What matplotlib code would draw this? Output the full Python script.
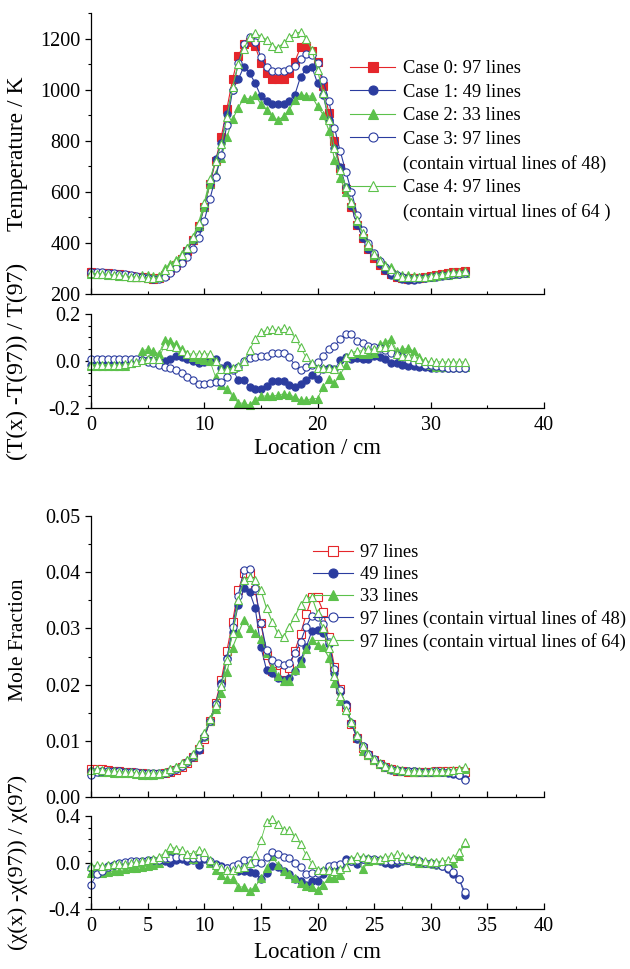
import numpy as np
import matplotlib
matplotlib.use("Agg")
import matplotlib.pyplot as plt
from matplotlib.ticker import MultipleLocator, FormatStrFormatter
from matplotlib.lines import Line2D

plt.rcParams['font.family'] = ['Liberation Serif', 'DejaVu Serif']
plt.rcParams['axes.unicode_minus'] = False

# positions (cm), 0 .. 33 every 0.5
loc = np.arange(0, 33.01, 0.5)

# ---- temperature / K ----
t_case0 = [285, 284, 283, 281, 279, 277, 274, 271, 268, 265,
           262, 260, 263, 275, 292, 312, 338, 370, 410, 465,
           540, 630, 720, 815, 925, 1040, 1130, 1180, 1185, 1170,
           1105, 1065, 1040, 1040, 1040, 1065, 1110, 1165, 1170, 1150,
           1110, 1015, 910, 800, 695, 610, 540, 470, 420, 375,
           340, 312, 292, 278, 268, 262, 260, 261, 264, 268,
           272, 276, 280, 283, 286, 288, 290]
t_case1 = [281, 280, 279, 277, 276, 274, 272, 270, 268, 265,
           263, 260, 262, 274, 294, 318, 340, 372, 410, 460,
           540, 635, 727, 790, 905, 1000, 1040, 1090, 1065, 1025,
           974, 954, 945, 942, 945, 955, 980, 1050, 1080, 1090,
           1025, 978, 883, 771, 697, 620, 544, 472, 420, 378,
           347, 318, 294, 276, 268, 260, 256, 256, 258, 261,
           265, 268, 272, 275, 278, 280, 282]
t_case2 = [279, 278, 277, 275, 273, 271, 269, 268, 268, 276,
           275, 271, 271, 300, 317, 335, 355, 381, 416, 468,
           542, 630, 671, 734, 814, 884, 929, 968, 962, 978,
           944, 921, 895, 880, 895, 921, 960, 980, 976, 974,
           935, 902, 840, 725, 655, 598, 556, 487, 433, 387,
           352, 335, 315, 304, 280, 275, 274, 272, 268, 268,
           268, 269, 273, 276, 279, 281, 283]
t_case3 = [288, 287, 286, 284, 282, 280, 277, 274, 271, 267,
           261, 257, 258, 266, 283, 300, 322, 345, 376, 418,
           486, 572, 657, 743, 863, 998, 1103, 1180, 1205, 1188,
           1127, 1088, 1073, 1073, 1073, 1081, 1093, 1118, 1140, 1135,
           1105, 1037, 955, 850, 760, 679, 601, 511, 451, 399,
           360, 329, 305, 288, 275, 266, 261, 260, 261, 264,
           267, 270, 273, 275, 278, 280, 282]
t_case4 = [281, 280, 279, 277, 275, 273, 270, 268, 267, 266,
           264, 262, 266, 294, 311, 330, 353, 381, 422, 479,
           556, 649, 720, 786, 892, 1010, 1100, 1160, 1205, 1222,
           1208, 1196, 1172, 1163, 1183, 1205, 1220, 1225, 1200, 1157,
           1077, 985, 883, 771, 685, 619, 560, 490, 438, 394,
           357, 330, 309, 296, 276, 268, 266, 265, 266, 268,
           271, 276, 279, 282, 285, 287, 289]

# ---- (T(x)-T(97))/T(97) ----
dt_case1 = [-0.015, -0.015, -0.015, -0.013, -0.012, -0.010, -0.008, -0.005, 0.000, 0.003,
            0.005, 0.003, 0.000, 0.000, 0.007, 0.022, 0.015, 0.007, 0.000, -0.010,
            -0.004, 0.010, 0.010, -0.030, -0.019, -0.036, -0.080, -0.080, -0.109, -0.120,
            -0.120, -0.106, -0.087, -0.087, -0.083, -0.101, -0.109, -0.097, -0.080, -0.058,
            -0.077, -0.036, -0.030, -0.036, 0.003, 0.017, 0.007, 0.012, 0.007, 0.010,
            0.022, 0.017, 0.007, -0.007, -0.010, -0.015, -0.020, -0.022, -0.025, -0.027,
            -0.028, -0.030, -0.030, -0.030, -0.030, -0.030, -0.030]
dt_case2 = [-0.020, -0.020, -0.020, -0.020, -0.020, -0.020, -0.020, -0.010, 0.000, 0.043,
            0.050, 0.043, 0.030, 0.090, 0.083, 0.073, 0.050, 0.030, 0.015, 0.007,
            0.003, 0.000, -0.068, -0.100, -0.120, -0.150, -0.178, -0.180, -0.188, -0.164,
            -0.149, -0.149, -0.149, -0.145, -0.140, -0.145, -0.152, -0.167, -0.167, -0.160,
            -0.160, -0.109, -0.077, -0.094, -0.058, -0.019, 0.030, 0.036, 0.030, 0.030,
            0.036, 0.073, 0.080, 0.094, 0.043, 0.050, 0.054, 0.043, 0.015, 0.000,
            -0.015, -0.025, -0.025, -0.025, -0.025, -0.025, -0.025]
dt_case3 = [0.010, 0.010, 0.010, 0.010, 0.010, 0.010, 0.010, 0.010, 0.010, 0.005,
            -0.003, -0.010, -0.017, -0.027, -0.030, -0.040, -0.050, -0.066, -0.080, -0.098,
            -0.098, -0.092, -0.088, -0.088, -0.067, -0.040, -0.024, 0.000, 0.011, 0.016,
            0.020, 0.022, 0.032, 0.032, 0.032, 0.015, -0.015, -0.040, -0.026, -0.019,
            -0.004, 0.022, 0.050, 0.062, 0.094, 0.113, 0.113, 0.087, 0.075, 0.065,
            0.058, 0.054, 0.046, 0.036, 0.025, 0.015, 0.004, -0.004, -0.010, -0.016,
            -0.019, -0.022, -0.025, -0.029, -0.029, -0.029, -0.029]
dt_case4 = [-0.015, -0.015, -0.015, -0.015, -0.015, -0.015, -0.012, -0.010, -0.005, 0.005,
            0.007, 0.007, 0.010, 0.070, 0.065, 0.058, 0.043, 0.030, 0.030, 0.030,
            0.030, 0.030, 0.000, -0.036, -0.036, -0.030, -0.020, 0.000, 0.046, 0.094,
            0.123, 0.130, 0.135, 0.130, 0.140, 0.130, 0.100, 0.058, 0.015, -0.007,
            -0.030, -0.030, -0.030, -0.036, -0.015, 0.015, 0.036, 0.043, 0.043, 0.050,
            0.050, 0.058, 0.058, 0.065, 0.030, 0.022, 0.022, 0.015, 0.007, 0.000,
            -0.002, -0.003, -0.004, -0.004, -0.004, -0.004, -0.004]

# ---- mole fraction ----
x_case0 = [0.0050, 0.0050, 0.0049, 0.0048, 0.0047, 0.0046, 0.0045, 0.0044, 0.0043, 0.0042,
           0.0041, 0.0041, 0.0041, 0.0042, 0.0044, 0.0048, 0.0054, 0.0061, 0.0071, 0.0085,
           0.0104, 0.0135, 0.0168, 0.0208, 0.0260, 0.0312, 0.0368, 0.0398, 0.0398, 0.0368,
           0.0310, 0.0252, 0.0225, 0.0221, 0.0222, 0.0229, 0.0260, 0.0290, 0.0325, 0.0355,
           0.0355, 0.0330, 0.0285, 0.0232, 0.0192, 0.0160, 0.0130, 0.0105, 0.0087, 0.0074,
           0.0065, 0.0058, 0.0053, 0.0049, 0.0047, 0.0046, 0.0045, 0.0045, 0.0045, 0.0045,
           0.0045, 0.0046, 0.0046, 0.0046, 0.0046, 0.0046, 0.0045]
x_case1 = [0.0047, 0.0047, 0.0047, 0.0047, 0.0046, 0.0046, 0.0045, 0.0044, 0.0043, 0.0042,
           0.0041, 0.0041, 0.0041, 0.0042, 0.0044, 0.0049, 0.0056, 0.0062, 0.0072, 0.0083,
           0.0107, 0.0135, 0.0166, 0.0202, 0.0247, 0.0293, 0.0342, 0.0371, 0.0365, 0.0336,
           0.0267, 0.0226, 0.0220, 0.0211, 0.0208, 0.0211, 0.0224, 0.0244, 0.0267, 0.0295,
           0.0297, 0.0291, 0.0272, 0.0220, 0.0186, 0.0165, 0.0131, 0.0104, 0.0090, 0.0076,
           0.0066, 0.0059, 0.0053, 0.0048, 0.0047, 0.0046, 0.0046, 0.0046, 0.0045, 0.0045,
           0.0045, 0.0045, 0.0045, 0.0043, 0.0041, 0.0040, 0.0032]
x_case2 = [0.0046, 0.0046, 0.0045, 0.0044, 0.0043, 0.0043, 0.0042, 0.0042, 0.0041, 0.0040,
           0.0040, 0.0040, 0.0041, 0.0044, 0.0049, 0.0053, 0.0058, 0.0065, 0.0073, 0.0092,
           0.0109, 0.0135, 0.0157, 0.0185, 0.0222, 0.0266, 0.0291, 0.0315, 0.0301, 0.0292,
           0.0282, 0.0256, 0.0231, 0.0215, 0.0206, 0.0206, 0.0226, 0.0238, 0.0263, 0.0280,
           0.0271, 0.0267, 0.0248, 0.0202, 0.0171, 0.0154, 0.0133, 0.0108, 0.0082, 0.0075,
           0.0066, 0.0059, 0.0054, 0.0050, 0.0048, 0.0047, 0.0046, 0.0045, 0.0045, 0.0045,
           0.0045, 0.0045, 0.0045, 0.0046, 0.0046, 0.0048, 0.0050]
x_case3 = [0.0040, 0.0045, 0.0046, 0.0046, 0.0046, 0.0046, 0.0045, 0.0044, 0.0044, 0.0043,
           0.0042, 0.0042, 0.0042, 0.0043, 0.0046, 0.0050, 0.0056, 0.0063, 0.0073, 0.0088,
           0.0108, 0.0136, 0.0165, 0.0200, 0.0245, 0.0303, 0.0358, 0.0404, 0.0406, 0.0371,
           0.0310, 0.0262, 0.0244, 0.0238, 0.0234, 0.0238, 0.0256, 0.0276, 0.0303, 0.0322,
           0.0320, 0.0307, 0.0276, 0.0227, 0.0190, 0.0162, 0.0131, 0.0107, 0.0090, 0.0076,
           0.0067, 0.0059, 0.0054, 0.0049, 0.0048, 0.0047, 0.0046, 0.0046, 0.0045, 0.0045,
           0.0045, 0.0046, 0.0045, 0.0044, 0.0042, 0.0040, 0.0030]
x_case4 = [0.0048, 0.0049, 0.0048, 0.0047, 0.0046, 0.0045, 0.0045, 0.0044, 0.0043, 0.0043,
           0.0042, 0.0042, 0.0043, 0.0045, 0.0050, 0.0054, 0.0060, 0.0066, 0.0076, 0.0094,
           0.0113, 0.0138, 0.0164, 0.0198, 0.0243, 0.0292, 0.0350, 0.0386, 0.0392, 0.0386,
           0.0368, 0.0336, 0.0312, 0.0291, 0.0285, 0.0303, 0.0321, 0.0342, 0.0354, 0.0356,
           0.0327, 0.0300, 0.0265, 0.0216, 0.0180, 0.0154, 0.0134, 0.0111, 0.0091, 0.0077,
           0.0067, 0.0060, 0.0056, 0.0052, 0.0050, 0.0048, 0.0047, 0.0047, 0.0046, 0.0046,
           0.0046, 0.0046, 0.0047, 0.0047, 0.0048, 0.0050, 0.0053]

# ---- (chi(x)-chi(97))/chi(97) ----
dx_case1 = [-0.050, -0.050, -0.050, -0.030, -0.020, -0.010, 0.000, 0.000, 0.005, 0.005,
            0.010, 0.010, 0.010, 0.010, 0.000, 0.020, 0.030, 0.010, 0.020, -0.020,
            0.030, 0.000, -0.010, -0.030, -0.050, -0.060, -0.070, -0.070, -0.080, -0.090,
            -0.140, -0.090, -0.030, -0.040, -0.070, -0.100, -0.140, -0.160, -0.190, -0.160,
            -0.160, -0.100, -0.050, -0.050, -0.030, 0.030, 0.010, -0.010, 0.030, 0.030,
            0.020, 0.010, 0.000, -0.010, 0.000, 0.010, 0.020, 0.020, 0.010, 0.000,
            -0.010, -0.020, -0.030, -0.060, -0.100, -0.140, -0.280]
dx_case2 = [-0.090, -0.085, -0.090, -0.080, -0.075, -0.070, -0.060, -0.050, -0.050, -0.040,
            -0.030, -0.020, 0.000, 0.040, 0.110, 0.100, 0.077, 0.063, 0.034, 0.077,
            0.050, 0.000, -0.066, -0.110, -0.146, -0.146, -0.210, -0.210, -0.243, -0.210,
            -0.137, -0.050, 0.054, -0.020, -0.070, -0.100, -0.130, -0.180, -0.200, -0.210,
            -0.237, -0.190, -0.130, -0.130, -0.110, -0.040, 0.020, 0.030, -0.060, 0.010,
            0.020, 0.020, 0.020, 0.020, 0.030, 0.020, 0.020, 0.010, 0.000, 0.000,
            0.000, -0.010, -0.010, 0.000, 0.000, 0.060, 0.170]
dx_case3 = [-0.190, -0.100, -0.070, -0.040, -0.020, -0.005, 0.005, 0.010, 0.013, 0.015,
            0.020, 0.020, 0.025, 0.035, 0.040, 0.050, 0.045, 0.035, 0.035, 0.035,
            0.040, 0.010, -0.020, -0.040, -0.050, -0.030, -0.010, 0.020, 0.025, 0.005,
            -0.005, 0.050, 0.087, 0.075, 0.050, 0.040, 0.000, -0.040, -0.100, -0.090,
            -0.090, -0.070, -0.030, -0.020, -0.010, 0.010, 0.010, 0.020, 0.030, 0.030,
            0.030, 0.020, 0.010, 0.010, 0.020, 0.020, 0.020, 0.020, 0.010, 0.000,
            0.000, -0.010, -0.030, -0.050, -0.080, -0.140, -0.250]
dx_case4 = [-0.030, -0.023, -0.030, -0.023, -0.014, -0.014, -0.010, -0.005, 0.006, 0.014,
            0.020, 0.034, 0.050, 0.083, 0.134, 0.120, 0.106, 0.077, 0.077, 0.110,
            0.090, 0.020, -0.023, -0.050, -0.066, -0.066, -0.050, -0.037, 0.000, 0.063,
            0.190, 0.350, 0.377, 0.334, 0.277, 0.277, 0.220, 0.163, 0.063, -0.009,
            -0.066, -0.066, -0.066, -0.070, -0.060, -0.037, 0.034, 0.054, 0.050, 0.040,
            0.034, 0.034, 0.050, 0.057, 0.070, 0.054, 0.040, 0.034, 0.020, 0.014,
            0.006, 0.006, 0.014, 0.020, 0.040, 0.090, 0.177]

top_labels = ['Case 0: 97 lines', 'Case 1: 49 lines', 'Case 2: 33 lines',
              'Case 3: 97 lines', 'Case 4: 97 lines']
top_extra = ['(contain virtual lines of 48)', '(contain virtual lines of 64 )']
mole_labels = ['97 lines', '49 lines', '33 lines',
               '97 lines (contain virtual lines of 48)',
               '97 lines (contain virtual lines of 64)']

red = '#e5262b'
blue = '#2b3c9f'
green = '#5cc14b'

styles = {
    0: dict(marker='s', mfc=red, mec=red, color=red, ms=5.4),
    1: dict(marker='o', mfc=blue, mec=blue, color=blue, ms=5.2),
    2: dict(marker='^', mfc=green, mec=green, color=green, ms=6.0),
    3: dict(marker='o', mfc='white', mec=blue, color=blue, ms=5.2),
    4: dict(marker='^', mfc='white', mec=green, color=green, ms=6.2),
}

W, H = 630, 969
fig = plt.figure(figsize=(W / 100, H / 100), dpi=100)


def add_ax(top, bottom, left=91, right=544):
    return fig.add_axes([left / W, 1 - bottom / H, (right - left) / W, (bottom - top) / H])


ax_t = add_ax(13, 294)
ax_dt = add_ax(314, 408)
ax_x = add_ax(516, 797)
ax_dx = add_ax(816, 909)


def draw(ax, ys, cases, lw=0.8):
    handles = []
    for y, c in zip(ys, cases):
        st = styles[c]
        h, = ax.plot(loc, y, linestyle='-', lw=lw, color=st['color'], marker=st['marker'],
                     ms=st['ms'], mfc=st['mfc'], mec=st['mec'], mew=0.8, clip_on=False)
        handles.append(h)
    return handles


fs = 14.5
for ax in (ax_t, ax_dt, ax_x, ax_dx):
    ax.spines['top'].set_visible(False)
    ax.spines['right'].set_visible(False)
    ax.spines['left'].set_linewidth(0.9)
    ax.spines['bottom'].set_linewidth(0.9)
    ax.set_xlim(0, 40)
    ax.tick_params(axis='x', which='both', direction='in', labelsize=fs, pad=6)
    ax.tick_params(axis='y', which='both', direction='out', labelsize=fs, pad=3)
    ax.tick_params(which='major', length=4.5, width=0.9)
    ax.tick_params(which='minor', length=2.5, width=0.8)

# temperature
h_top = draw(ax_t, [t_case0, t_case1, t_case2, t_case3, t_case4], [0, 1, 2, 3, 4])
ax_t.set_ylim(200, 1300)
ax_t.set_yticks(range(200, 1201, 200))
ax_t.yaxis.set_minor_locator(MultipleLocator(100))
ax_t.xaxis.set_major_locator(MultipleLocator(10))
ax_t.xaxis.set_minor_locator(MultipleLocator(5))
ax_t.tick_params(axis='x', labelbottom=False)
ax_t.set_ylabel('Temperature / K', fontsize=17)
ax_t.yaxis.set_label_coords(-0.14, 0.5)

blank = Line2D([], [], linestyle='none', marker=None)
leg_h = h_top[:4] + [blank, h_top[4], blank]
leg_l = top_labels[:4] + [top_extra[0], top_labels[4], top_extra[1]]
fig.legend(leg_h, leg_l, loc='upper left', bbox_to_anchor=(350 / W, 1 - 60 / H),
           frameon=False, fontsize=13.3, handlelength=2.45, handletextpad=0.42,
           labelspacing=0.36, borderpad=0, borderaxespad=0, markerscale=1.25)

# temperature deviation
draw(ax_dt, [dt_case1, dt_case2, dt_case3, dt_case4], [1, 2, 3, 4], lw=0.6)
ax_dt.set_ylim(-0.2, 0.2)
ax_dt.set_yticks([-0.2, 0.0, 0.2])
ax_dt.yaxis.set_minor_locator(MultipleLocator(0.05))
ax_dt.yaxis.set_major_formatter(FormatStrFormatter('%.1f'))
ax_dt.xaxis.set_major_locator(MultipleLocator(10))
ax_dt.xaxis.set_minor_locator(MultipleLocator(5))
ax_dt.set_xlabel('Location / cm', fontsize=16.5, labelpad=2)
ax_dt.set_ylabel('(T(x) -T(97)) / T(97)', fontsize=17)
ax_dt.yaxis.set_label_coords(-0.14, 0.5)

# mole fraction
h_mole = draw(ax_x, [x_case0, x_case1, x_case2, x_case3, x_case4], [0, 1, 2, 3, 4])
h_mole[0].set_markerfacecolor('white')
ax_x.set_ylim(0, 0.05)
ax_x.yaxis.set_major_locator(MultipleLocator(0.01))
ax_x.yaxis.set_minor_locator(MultipleLocator(0.005))
ax_x.yaxis.set_major_formatter(FormatStrFormatter('%.2f'))
ax_x.xaxis.set_major_locator(MultipleLocator(5))
ax_x.xaxis.set_minor_locator(MultipleLocator(2.5))
ax_x.tick_params(axis='x', labelbottom=False)
ax_x.set_ylabel('Mole Fraction', fontsize=15.5)
ax_x.yaxis.set_label_coords(-0.14, 0.56)
fig.legend(h_mole, mole_labels, loc='upper left', bbox_to_anchor=(313 / W, 1 - 544 / H),
           frameon=False, fontsize=13.3, handlelength=2.15, handletextpad=0.38,
           labelspacing=0.27, borderpad=0, borderaxespad=0, markerscale=1.25)

# mole fraction deviation
draw(ax_dx, [dx_case1, dx_case2, dx_case3, dx_case4], [1, 2, 3, 4], lw=0.6)
ax_dx.set_ylim(-0.4, 0.4)
ax_dx.set_yticks([-0.4, 0.0, 0.4])
ax_dx.yaxis.set_minor_locator(MultipleLocator(0.1))
ax_dx.yaxis.set_major_formatter(FormatStrFormatter('%.1f'))
ax_dx.xaxis.set_major_locator(MultipleLocator(5))
ax_dx.xaxis.set_minor_locator(MultipleLocator(2.5))
ax_dx.set_xlabel('Location / cm', fontsize=16.5, labelpad=4)
ax_dx.set_ylabel('(χ(x) -χ(97)) / χ(97)', fontsize=16)
ax_dx.yaxis.set_label_coords(-0.14, 0.5)

fig.savefig('out.png', dpi=100)
